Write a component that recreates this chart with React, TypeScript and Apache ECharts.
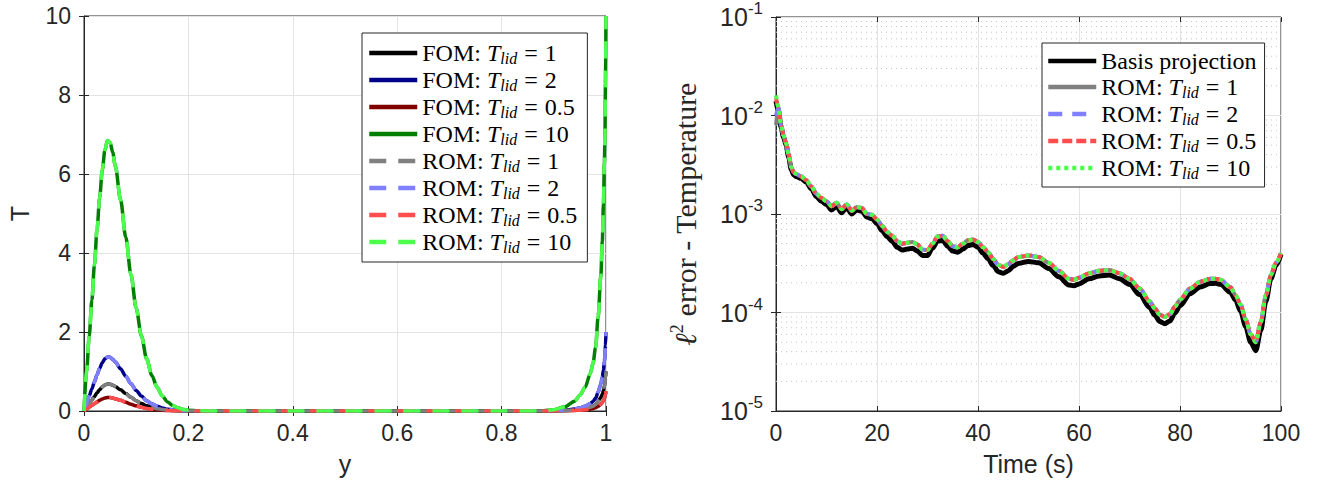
import React, { useEffect, useRef } from 'react';
import * as echarts from 'echarts';

// ---------- Left panel: temperature profiles T(y) ----------
const yPos = [0, 0.005, 0.01, 0.015, 0.02, 0.025, 0.03, 0.035, 0.04, 0.045, 0.05, 0.055, 0.06, 0.07, 0.08, 0.09, 0.1, 0.11, 0.12, 0.13, 0.14, 0.15, 0.16, 0.17, 0.18, 0.19, 0.2, 0.22, 0.25, 0.3, 0.4, 0.5, 0.6, 0.7, 0.8, 0.85, 0.88, 0.9, 0.92, 0.94, 0.95, 0.96, 0.97, 0.975, 0.98, 0.985, 0.99, 0.993, 0.995, 0.997, 0.998, 0.999, 1.0];
const tempLid1 = [0, 0.1, 0.19, 0.28, 0.37, 0.46, 0.54, 0.61, 0.66, 0.685, 0.68, 0.655, 0.62, 0.535, 0.44, 0.345, 0.26, 0.19, 0.13, 0.09, 0.06, 0.038, 0.023, 0.014, 0.008, 0.004, 0.002, 0.0005, 0, 0, 0, 0, 0, 0, 0, 0, 0.0005, 0.003, 0.01, 0.025, 0.04, 0.06, 0.095, 0.12, 0.16, 0.24, 0.34, 0.43, 0.52, 0.63, 0.7, 0.83, 1.0];
const tempLid2 = [0, 0.2, 0.38, 0.56, 0.74, 0.92, 1.08, 1.22, 1.32, 1.37, 1.36, 1.31, 1.24, 1.07, 0.88, 0.69, 0.52, 0.38, 0.26, 0.18, 0.12, 0.076, 0.046, 0.028, 0.016, 0.008, 0.004, 0.001, 0, 0, 0, 0, 0, 0, 0, 0, 0.001, 0.006, 0.02, 0.05, 0.08, 0.12, 0.19, 0.24, 0.32, 0.48, 0.68, 0.86, 1.04, 1.26, 1.4, 1.66, 2.0];
const tempLid05 = [0, 0.05, 0.095, 0.14, 0.185, 0.23, 0.27, 0.305, 0.33, 0.34, 0.34, 0.33, 0.31, 0.27, 0.22, 0.17, 0.13, 0.095, 0.066, 0.045, 0.03, 0.019, 0.012, 0.007, 0.004, 0.002, 0.001, 0, 0, 0, 0, 0, 0, 0, 0, 0, 0.0003, 0.0015, 0.005, 0.0125, 0.02, 0.03, 0.048, 0.06, 0.08, 0.12, 0.17, 0.21, 0.26, 0.31, 0.35, 0.41, 0.5];
const tempLid10 = [0, 1.0, 1.9, 2.8, 3.7, 4.6, 5.4, 6.1, 6.6, 6.85, 6.8, 6.55, 6.2, 5.35, 4.4, 3.45, 2.6, 1.9, 1.32, 0.9, 0.6, 0.38, 0.23, 0.14, 0.08, 0.04, 0.02, 0.005, 0, 0, 0, 0, 0, 0, 0, 0, 0.005, 0.03, 0.1, 0.25, 0.4, 0.6, 0.95, 1.2, 1.6, 2.4, 3.4, 4.3, 5.2, 6.3, 7.0, 8.3, 10];

// ---------- Right panel: l2 error vs time ----------
const timeS = [0, 0.5, 1, 1.5, 2, 2.5, 3, 3.5, 4, 5, 6, 7, 8, 9, 10, 11, 12, 13, 14, 15, 16, 17, 18, 19, 20, 21, 22, 23, 24, 25, 26, 27, 28, 29, 30, 31, 32, 33, 34, 35, 36, 37, 38, 39, 40, 41, 42, 43, 44, 45, 46, 47, 48, 50, 52, 54, 56, 58, 59, 60, 62, 64, 66, 68, 70, 72, 74, 75, 76, 77, 78, 79, 80, 82, 84, 86, 87, 88, 90, 91, 92, 93, 94, 95, 96, 97, 98, 99, 100];
const basisError = [1.4e-2, 1.1e-2, 7.6e-3, 6.0e-3, 5.0e-3, 3.8e-3, 2.85e-3, 2.5e-3, 2.4e-3, 2.3e-3, 2.1e-3, 1.8e-3, 1.5e-3, 1.35e-3, 1.25e-3, 1.1e-3, 1.2e-3, 1.03e-3, 1.16e-3, 1.0e-3, 1.1e-3, 1.07e-3, 9.3e-4, 9.0e-4, 8.0e-4, 6.8e-4, 5.9e-4, 5.3e-4, 4.6e-4, 4.3e-4, 4.4e-4, 4.5e-4, 4.2e-4, 3.8e-4, 3.8e-4, 4.5e-4, 5.3e-4, 5.4e-4, 4.7e-4, 4.2e-4, 4.1e-4, 4.4e-4, 4.8e-4, 4.9e-4, 4.6e-4, 4.0e-4, 3.5e-4, 3.0e-4, 2.6e-4, 2.5e-4, 2.65e-4, 2.95e-4, 3.15e-4, 3.3e-4, 3.2e-4, 2.8e-4, 2.3e-4, 1.9e-4, 1.87e-4, 1.95e-4, 2.2e-4, 2.35e-4, 2.4e-4, 2.2e-4, 1.93e-4, 1.52e-4, 1.12e-4, 9.4e-5, 8.1e-5, 7.7e-5, 8.2e-5, 9.9e-5, 1.17e-4, 1.55e-4, 1.82e-4, 1.97e-4, 1.98e-4, 1.93e-4, 1.6e-4, 1.33e-4, 1.03e-4, 7.2e-5, 5.0e-5, 4.1e-5, 6.6e-5, 1.3e-4, 2.2e-4, 3.0e-4, 3.9e-4];
const romError = [1.6e-2, 1.2e-2, 8.0e-3, 6.2e-3, 5.2e-3, 4.0e-3, 3.0e-3, 2.65e-3, 2.55e-3, 2.4e-3, 2.2e-3, 1.9e-3, 1.6e-3, 1.45e-3, 1.35e-3, 1.2e-3, 1.3e-3, 1.12e-3, 1.25e-3, 1.08e-3, 1.18e-3, 1.15e-3, 1.0e-3, 9.8e-4, 8.8e-4, 7.6e-4, 6.6e-4, 6.0e-4, 5.3e-4, 5.0e-4, 5.1e-4, 5.2e-4, 4.9e-4, 4.35e-4, 4.3e-4, 5.0e-4, 5.9e-4, 6.0e-4, 5.3e-4, 4.7e-4, 4.6e-4, 5.0e-4, 5.4e-4, 5.5e-4, 5.2e-4, 4.6e-4, 4.1e-4, 3.5e-4, 3.05e-4, 2.9e-4, 3.1e-4, 3.4e-4, 3.65e-4, 3.8e-4, 3.65e-4, 3.2e-4, 2.65e-4, 2.2e-4, 2.15e-4, 2.25e-4, 2.5e-4, 2.65e-4, 2.7e-4, 2.5e-4, 2.2e-4, 1.75e-4, 1.3e-4, 1.1e-4, 9.5e-5, 9.0e-5, 9.6e-5, 1.15e-4, 1.35e-4, 1.75e-4, 2.05e-4, 2.2e-4, 2.2e-4, 2.15e-4, 1.8e-4, 1.5e-4, 1.2e-4, 8.5e-5, 6.0e-5, 5.0e-5, 8.0e-5, 1.5e-4, 2.4e-4, 3.2e-4, 4.0e-4];
// first sample of each ROM error curve (they differ only at t = 0)
const romStartLid1 = 8.0e-3;
const romStartLid2 = 1.0e-2;
const romStartLid05 = 1.5e-2;
const romStartLid10 = 1.6e-2;

const yTicksLog = [1e-5, 1e-4, 1e-3, 1e-2, 1e-1];
const minorMultipliers = [2, 3, 4, 5, 6, 7, 8, 9];

const SANS = 'Liberation Sans, Arial, Helvetica, sans-serif';
const SERIF = 'Liberation Serif, Times New Roman, serif';
const AX = '#262626';

const pairs = (xs: number[], ys: number[]) => xs.map((x, i) => [x, ys[i]]);
const withStart = (ys: number[], s: number) => ys.map((v, i) => (i === 0 ? s : v));

const legendRich = {
  a: { fontFamily: SERIF, fontSize: 24, lineHeight: 24, color: '#000' },
  i: { fontFamily: SERIF, fontSize: 24, lineHeight: 24, fontStyle: 'italic', color: '#000' },
  s: { fontFamily: SERIF, fontSize: 16, lineHeight: 14, fontStyle: 'italic', color: '#000', padding: [10, 0, 0, 0] },
  e: { fontFamily: SERIF, fontSize: 24, lineHeight: 24, color: '#000', padding: [0, 7, 0, 7] },
};

const legendFmt = (name: string) => {
  if (name.indexOf('|') < 0) return `{a|${name}}`;
  const [kind, val] = name.split('|');
  return `{a|${kind.trim()}: }{i|T}{s|lid}{e|=}{a|${val}}`;
};

export default function App() {
  const ref = useRef<HTMLDivElement>(null);
  useEffect(() => {
    if (!ref.current) return;
    const chart = echarts.init(ref.current, undefined, { renderer: 'svg' });

    const gridLine = { show: true, lineStyle: { color: '#e3e3e3', width: 1 } };
    const tickIn = { show: true, inside: true, length: 5, lineStyle: { color: AX } };
    const axLine = { show: true, onZero: false, lineStyle: { color: AX, width: 1 } };
    const lbl = { color: AX, fontFamily: SANS, fontSize: 23 };

    // dotted minor grid of the log axis, drawn as broken horizontal segments
    const minorData: any[] = [];
    for (let k = 0; k < yTicksLog.length - 1; k++) {
      for (const m of minorMultipliers) {
        const v = m * yTicksLog[k];
        minorData.push([0, v], [100, v], ['-', '-']);
      }
    }

    const fom = (name: string, data: number[], color: string) => ({
      type: 'line', name, xAxisIndex: 0, yAxisIndex: 0, data: pairs(yPos, data),
      showSymbol: false, symbol: 'none', smooth: 0.3, smoothMonotone: 'x',
      lineStyle: { color, width: 3.5, type: 'solid' }, itemStyle: { color }, z: 3,
    });
    const rom = (name: string, data: number[], color: string) => ({
      type: 'line', name, xAxisIndex: 0, yAxisIndex: 0, data: pairs(yPos, data),
      showSymbol: false, symbol: 'none', smooth: 0.3, smoothMonotone: 'x',
      lineStyle: { color, width: 3.5, type: [17, 12], cap: 'butt' }, itemStyle: { color }, z: 4,
    });
    const err = (name: string, data: number[], color: string, width: number, type: any, z: number) => ({
      type: 'line', name, xAxisIndex: 2, yAxisIndex: 2, data: pairs(timeS, data),
      showSymbol: false, symbol: 'none', smooth: 0.3, smoothMonotone: 'x',
      lineStyle: { color, width, type, cap: 'butt' }, itemStyle: { color }, z,
    });

    const legendBase = {
      orient: 'vertical', itemWidth: 48, itemHeight: 12, itemGap: 1,
      borderColor: AX, borderWidth: 1, backgroundColor: '#fff', borderRadius: 0,
      formatter: legendFmt, textStyle: { rich: legendRich, color: '#000' },
      itemStyle: { opacity: 0 },
      lineStyle: { width: 4.5 },
      selectedMode: false,
    };

    chart.setOption({
      animation: false,
      backgroundColor: '#fff',
      grid: [
        { left: 84, top: 16, width: 522, height: 395, show: true, borderColor: AX, borderWidth: 1, backgroundColor: 'transparent' },
        { left: 776, top: 16, width: 505, height: 395, show: true, borderColor: AX, borderWidth: 1, backgroundColor: 'transparent' },
      ],
      legend: [
        { ...legendBase, left: 362, top: 33, padding: [7, 10, 7, 5],
          data: ['FOM|1', 'FOM|2', 'FOM|0.5', 'FOM|10', 'ROM|1', 'ROM|2', 'ROM|0.5', 'ROM|10'] },
        { ...legendBase, left: 1042, top: 43, padding: [6, 8, 6, 4],
          data: ['Basis projection', 'ROM |1', 'ROM |2', 'ROM |0.5', 'ROM |10'] },
      ],
      xAxis: [
        { type: 'value', gridIndex: 0, min: 0, max: 1, interval: 0.2, position: 'bottom',
          name: 'y', nameLocation: 'middle', nameGap: 40, nameTextStyle: { color: AX, fontFamily: SANS, fontSize: 25 },
          axisLine: axLine, axisTick: tickIn, splitLine: gridLine,
          axisLabel: { ...lbl, margin: 10 } },
        { type: 'value', gridIndex: 0, min: 0, max: 1, interval: 0.2, position: 'top',
          axisLine: { show: false }, axisTick: tickIn, splitLine: { show: false }, axisLabel: { show: false } },
        { type: 'value', gridIndex: 1, min: 0, max: 100, interval: 20, position: 'bottom',
          name: 'Time (s)', nameLocation: 'middle', nameGap: 40, nameTextStyle: { color: AX, fontFamily: SANS, fontSize: 25 },
          axisLine: axLine, axisTick: tickIn, splitLine: gridLine,
          axisLabel: { ...lbl, margin: 10 } },
        { type: 'value', gridIndex: 1, min: 0, max: 100, interval: 20, position: 'top',
          axisLine: { show: false }, axisTick: tickIn, splitLine: { show: false }, axisLabel: { show: false } },
      ],
      yAxis: [
        { type: 'value', gridIndex: 0, min: 0, max: 10, interval: 2, position: 'left',
          name: 'T', nameLocation: 'middle', nameGap: 52, nameTextStyle: { color: AX, fontFamily: SANS, fontSize: 25 },
          axisLine: axLine, axisTick: tickIn, splitLine: gridLine,
          axisLabel: { ...lbl, margin: 13 } },
        { type: 'value', gridIndex: 0, min: 0, max: 10, interval: 2, position: 'right',
          axisLine: { show: false }, axisTick: tickIn, splitLine: { show: false }, axisLabel: { show: false } },
        { type: 'log', logBase: 10, gridIndex: 1, min: yTicksLog[0], max: yTicksLog[yTicksLog.length - 1], position: 'left',
          name: '{l|ℓ}{p|2}{n| error - Temperature}', nameLocation: 'middle', nameGap: 74,
          nameTextStyle: {
            color: AX,
            rich: {
              l: { fontFamily: SERIF, fontStyle: 'italic', fontSize: 30, color: AX },
              p: { fontFamily: SERIF, fontSize: 18, color: AX, padding: [0, 0, 16, 0] },
              n: { fontFamily: SERIF, fontSize: 30, color: AX },
            },
          },
          axisLine: axLine, axisTick: tickIn, splitLine: gridLine,
          axisLabel: {
            margin: 13,
            formatter: (v: number) => `{b|10}{p|${Math.round(Math.log10(v))}}`,
            rich: {
              b: { color: AX, fontFamily: SANS, fontSize: 25 },
              p: { color: AX, fontFamily: SANS, fontSize: 17, padding: [0, 0, 17, 0] },
            },
          } },
        { type: 'log', logBase: 10, gridIndex: 1, min: yTicksLog[0], max: yTicksLog[yTicksLog.length - 1], position: 'right',
          axisLine: { show: false }, axisTick: tickIn, splitLine: { show: false }, axisLabel: { show: false } },
      ],
      series: [
        fom('FOM|1', tempLid1, '#000000'),
        fom('FOM|2', tempLid2, '#00008b'),
        fom('FOM|0.5', tempLid05, '#800000'),
        fom('FOM|10', tempLid10, '#007f00'),
        rom('ROM|1', tempLid1, '#808080'),
        rom('ROM|2', tempLid2, '#8080ff'),
        rom('ROM|0.5', tempLid05, '#ff4d4d'),
        rom('ROM|10', tempLid10, '#4dff4d'),
        {
          type: 'line', name: 'minor-grid', xAxisIndex: 2, yAxisIndex: 2, data: minorData, z: 1, silent: true,
          showSymbol: false, symbol: 'none', connectNulls: false,
          lineStyle: { color: '#c4c4c4', width: 1, type: [1, 4] },
        },
        err('Basis projection', basisError, '#000000', 5, 'solid', 3),
        err('ROM |1', withStart(romError, romStartLid1), '#808080', 4, 'solid', 4),
        err('ROM |2', withStart(romError, romStartLid2), '#8080ff', 4, [14, 10], 5),
        err('ROM |0.5', withStart(romError, romStartLid05), '#ff4d4d', 4, [10, 4], 6),
        err('ROM |10', withStart(romError, romStartLid10), '#4dff4d', 4, [4, 4], 7),
      ],
    });
    return () => chart.dispose();
  }, []);
  return <div ref={ref} style={{ position: 'fixed', left: 0, top: 0, width: 1317, height: 489, background: '#fff' }} />;
}
